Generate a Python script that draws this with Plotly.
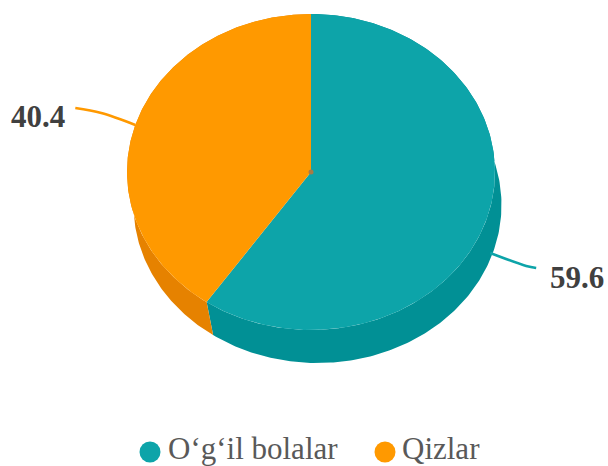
import numpy as np
import plotly.graph_objects as go

categories = ["O‘g‘il bolalar", "Qizlar"]
values = [59.6, 40.4]
top_colors = ["#0da4a9", "#ff9900"]
side_colors = ["#019095", "#e68200"]

W, H = 608, 466
CX, CY, RX, RY = 311, 172, 184, 158
DX, DY = 6.5, 33
LABEL_POS = [(577, 277), (38, 116)]
LEGEND_DOT_X = [150, 385]
LEGEND_TEXT_X = [166, 400]
LEGEND_DOT_Y = 452
LEGEND_TEXT_Y = 448.5


def ell(theta, dx=0.0, dy=0.0):
    return CX + dx + RX * np.sin(theta), CY + dy - RY * np.cos(theta)


total = sum(values)
edges = np.cumsum([0] + values) / total * 2 * np.pi
fig = go.Figure()

# side walls
for i in range(len(values)):
    th = np.linspace(edges[i], edges[i + 1], 240)
    xt, yt = ell(th)
    xb, yb = ell(th, DX, DY)
    fig.add_trace(go.Scatter(
        x=np.r_[xb, xt[::-1], xb[0]], y=np.r_[yb, yt[::-1], yb[0]],
        mode="lines", fill="toself", fillcolor=side_colors[i],
        line=dict(width=0), showlegend=False, hoverinfo="skip"))
# top faces
for i in range(len(values)):
    th = np.linspace(edges[i], edges[i + 1], 240)
    xt, yt = ell(th)
    fig.add_trace(go.Scatter(
        x=np.r_[CX, xt, CX], y=np.r_[CY, yt, CY],
        mode="lines", fill="toself", fillcolor=top_colors[i],
        line=dict(width=0), showlegend=False, hoverinfo="skip"))
# centre dot
fig.add_trace(go.Scatter(x=[CX], y=[CY], mode="markers",
                         marker=dict(size=5, color="#a87a45"),
                         showlegend=False, hoverinfo="skip"))
# leader lines and labels
for i in range(len(values)):
    mid = (edges[i] + edges[i + 1]) / 2
    if i == 0:
        ax, ay = ell(mid, DX, DY)
        pts_x, pts_y = [ax - 3, ax + 33, ax + 43], [ay + 1, ay + 14, ay + 16]
    else:
        ax, ay = ell(mid)
        pts_x, pts_y = [ax, ax - 34, ax - 60], [ay, ay - 12, ay - 17]
    fig.add_trace(go.Scatter(x=pts_x, y=pts_y, mode="lines",
                             line=dict(color=top_colors[i], width=2.6, shape="spline"),
                             showlegend=False, hoverinfo="skip"))
    fig.add_annotation(x=LABEL_POS[i][0], y=LABEL_POS[i][1], text=f"<b>{values[i]}</b>",
                       showarrow=False,
                       font=dict(family="Liberation Serif", size=31, color="#404040"))
# legend entries
for i, c in enumerate(categories):
    fig.add_trace(go.Scatter(x=[LEGEND_DOT_X[i]], y=[LEGEND_DOT_Y], mode="markers",
                             marker=dict(size=21, color=top_colors[i]),
                             showlegend=False, hoverinfo="skip"))
    fig.add_annotation(x=LEGEND_TEXT_X[i], y=LEGEND_TEXT_Y, text=c, showarrow=False, xanchor="left",
                       font=dict(family="Liberation Serif", size=31, color="#595959"))

fig.update_layout(
    width=W, height=H, margin=dict(l=0, r=0, t=0, b=0),
    paper_bgcolor="white", plot_bgcolor="white", showlegend=False,
    xaxis=dict(range=[0, W], visible=False, fixedrange=True),
    yaxis=dict(range=[H, 0], visible=False, fixedrange=True),
)
fig.write_html("out.html", config=dict(displayModeBar=False),
               post_script="document.body.style.margin='0';document.documentElement.style.overflow='hidden';")
